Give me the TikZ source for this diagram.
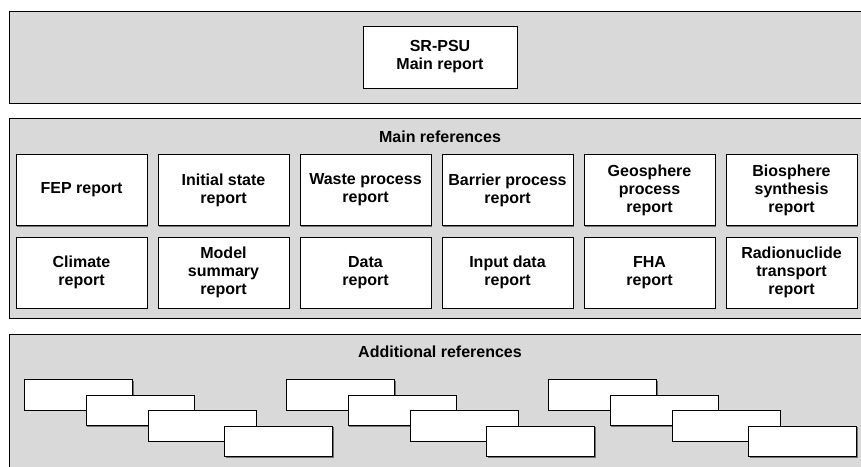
\documentclass[tikz,border=0pt]{standalone}
\usepackage{fontspec}
\setmainfont{Liberation Sans}
\usetikzlibrary{positioning}
\usetikzlibrary{shadows}

\definecolor{panelgray}{RGB}{217,217,217}
\tikzset{
	panel/.style={draw, fill=panelgray, line width=0.9pt, inner sep=0pt},
	shade box/.style={drop shadow={shadow xshift=1pt, shadow yshift=-1pt, fill=black!55, opacity=1}},
	report/.style={draw, fill=white, line width=0.8pt, shade box, inner sep=0pt,
		minimum width=131pt, minimum height=71pt, align=center,
		font=\fontsize{16}{18}\selectfont\bfseries},
	extra/.style={draw, fill=white, line width=0.8pt, shade box, inner sep=0pt,
		minimum width=108pt, minimum height=30.5pt},
	title/.style={font=\fontsize{16}{18}\selectfont\bfseries}
}

\begin{document}
\begin{tikzpicture}[x = 1pt, y = -1pt]
	\useasboundingbox (0, 0) rectangle (861, 466);
	
	% Panels
	\node[panel, minimum width=862pt, minimum height=92pt] (top) at (440, 57) {};
	\node[panel, minimum width=862pt, minimum height=200pt] (mid) at (440, 218) {};
	\node[panel, minimum width=862pt, minimum height=146pt] (bot) at (440, 407) {};
	
	% Main report
	\node[report, minimum width=154pt, minimum height=62pt] (main) at (440, 57) {SR-PSU\\Main report};
	
	% Main references
	\node[title] (mainref) at (440, 137) {Main references};
	\node[report] (fep) at (81.5, 190) {FEP report};
	\node[report] (init) at (223.5, 190) {Initial state\\report};
	\node[report] (waste) at (365.5, 190) {Waste process\\report};
	\node[report] (barrier) at (507.5, 190) {Barrier process\\report};
	\node[report] (geo) at (649.5, 190) {Geosphere\\process\\report};
	\node[report] (bio) at (791.5, 190) {Biosphere\\synthesis\\report};
	\node[report] (climate) at (81.5, 272.5) {Climate\\report};
	\node[report] (model) at (223.5, 272.5) {Model\\summary\\report};
	\node[report] (data) at (365.5, 272.5) {Data\\report};
	\node[report] (input) at (507.5, 272.5) {Input data\\report};
	\node[report] (fha) at (649.5, 272.5) {FHA\\report};
	\node[report] (radio) at (791.5, 272.5) {Radionuclide\\transport\\report};
	
	% Additional references
	\node[title] (addref) at (440, 352) {Additional references};
	\foreach \g in {0, 1, 2} {
		\node[extra] (add\g a) at (78.5 + 262*\g, 395) {};
		\node[extra] (add\g b) at (140 + 262*\g, 410.5) {};
		\node[extra] (add\g c) at (202 + 262*\g, 426) {};
		\node[extra] (add\g d) at (278.5 + 262*\g, 441.5) {};
	}
\end{tikzpicture}
\end{document}
